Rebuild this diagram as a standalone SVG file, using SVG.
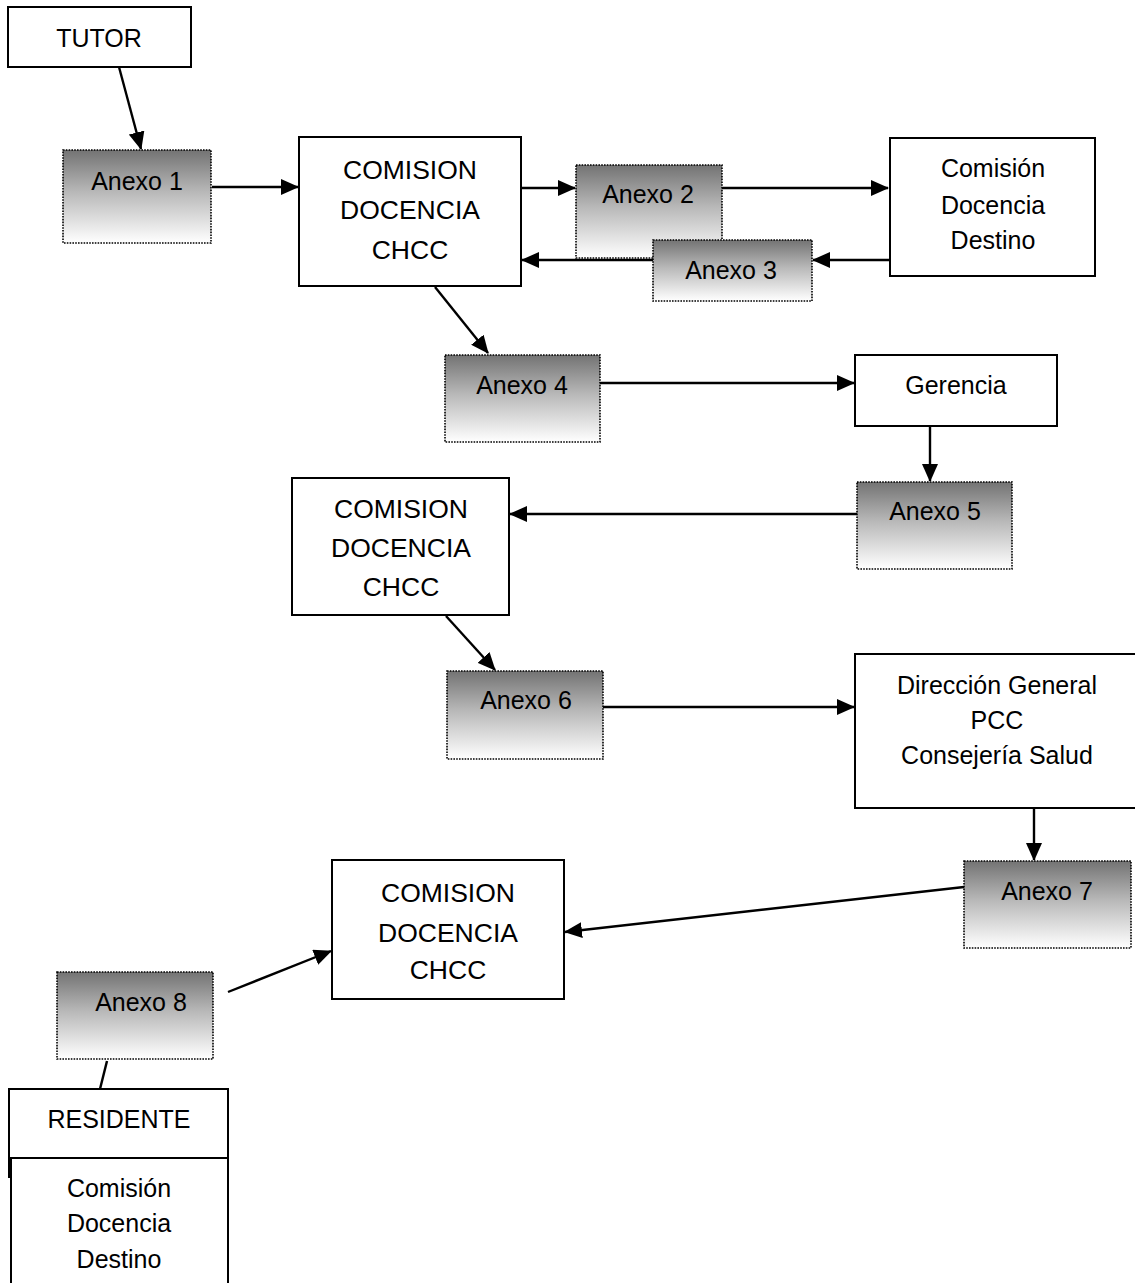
<svg xmlns="http://www.w3.org/2000/svg" width="1135" height="1283" viewBox="0 0 1135 1283">
<style>
.box{fill:#fff;stroke:#000;stroke-width:2}
.anx{fill:url(#g);stroke:#000;stroke-width:1.6;stroke-dasharray:1.6 1.2}
.t{font-family:"Liberation Sans",Arial,sans-serif;font-size:25px;fill:#000;text-anchor:middle}
.k{font-size:26.5px}
.c{fill:none;stroke:#000;stroke-width:2.4}
</style>
<defs>
<linearGradient id="g" x1="0" y1="0" x2="0" y2="1">
<stop offset="0" stop-color="#737373"/>
<stop offset="0.45" stop-color="#b8b8b8"/>
<stop offset="1" stop-color="#ffffff"/>
</linearGradient>
<marker id="a" markerUnits="userSpaceOnUse" markerWidth="18" markerHeight="16" refX="17" refY="8" orient="auto">
<path d="M0,0 L18,8 L0,16 Z" fill="#000"/>
</marker>
</defs>
<rect width="1135" height="1283" fill="#fff"/>

<g id="connectors">
<line class="c" x1="119" y1="67" x2="141" y2="149" marker-end="url(#a)"/>
<line class="c" x1="212" y1="187" x2="298" y2="187" marker-end="url(#a)"/>
<line class="c" x1="522" y1="188" x2="575" y2="188" marker-end="url(#a)"/>
<line class="c" x1="722" y1="188" x2="888" y2="188" marker-end="url(#a)"/>
<line class="c" x1="890" y1="260" x2="813" y2="260" marker-end="url(#a)"/>
<line class="c" x1="653" y1="260" x2="522" y2="260" marker-end="url(#a)"/>
<line class="c" x1="435" y1="287" x2="488" y2="353" marker-end="url(#a)"/>
<line class="c" x1="600" y1="383" x2="854" y2="383" marker-end="url(#a)"/>
<line class="c" x1="930" y1="426" x2="930" y2="481" marker-end="url(#a)"/>
<line class="c" x1="857" y1="514" x2="510" y2="514" marker-end="url(#a)"/>
<line class="c" x1="446" y1="616" x2="495" y2="670" marker-end="url(#a)"/>
<line class="c" x1="603" y1="707" x2="854" y2="707" marker-end="url(#a)"/>
<line class="c" x1="1034" y1="808" x2="1034" y2="860" marker-end="url(#a)"/>
<line class="c" x1="964" y1="887" x2="565" y2="932" marker-end="url(#a)"/>
<line class="c" x1="228" y1="992" x2="331" y2="951" marker-end="url(#a)"/>
<line class="c" x1="107" y1="1061" x2="100" y2="1089"/>
</g>

<g id="tutor"><rect class="box" x="8" y="7" width="183" height="60"/><text class="t" x="99" y="47">TUTOR</text></g>
<g id="anexo1"><rect class="anx" x="63" y="150" width="148" height="93"/><text class="t" x="137" y="190">Anexo 1</text></g>
<g id="comision1"><rect class="box" x="299" y="137" width="222" height="149"/>
<text class="t k" x="410" y="179">COMISION</text><text class="t k" x="410" y="219">DOCENCIA</text><text class="t k" x="410" y="259">CHCC</text></g>
<g id="anexo2"><rect class="anx" x="576" y="165" width="146" height="93"/><text class="t" x="648" y="203">Anexo 2</text></g>
<g id="destino1"><rect class="box" x="890" y="138" width="205" height="138"/>
<text class="t" x="993" y="177">Comisión</text><text class="t" x="993" y="214">Docencia</text><text class="t" x="993" y="249">Destino</text></g>
<g id="anexo3"><rect class="anx" x="653" y="240" width="159" height="61"/><text class="t" x="731" y="279">Anexo 3</text></g>
<g id="anexo4"><rect class="anx" x="445" y="355" width="155" height="87"/><text class="t" x="522" y="394">Anexo 4</text></g>
<g id="gerencia"><rect class="box" x="855" y="355" width="202" height="71"/><text class="t" x="956" y="394">Gerencia</text></g>
<g id="anexo5"><rect class="anx" x="857" y="482" width="155" height="87"/><text class="t" x="935" y="520">Anexo 5</text></g>
<g id="comision2"><rect class="box" x="292" y="478" width="217" height="137"/>
<text class="t k" x="401" y="518">COMISION</text><text class="t k" x="401" y="557">DOCENCIA</text><text class="t k" x="401" y="596">CHCC</text></g>
<g id="anexo6"><rect class="anx" x="447" y="671" width="156" height="88"/><text class="t" x="526" y="709">Anexo 6</text></g>
<g id="direccion"><rect class="box" x="855" y="654" width="300" height="154"/>
<text class="t" x="997" y="694">Dirección General</text><text class="t" x="997" y="729">PCC</text><text class="t" x="997" y="764">Consejería Salud</text></g>
<g id="anexo7"><rect class="anx" x="964" y="861" width="167" height="87"/><text class="t" x="1047" y="900">Anexo 7</text></g>
<g id="comision3"><rect class="box" x="332" y="860" width="232" height="139"/>
<text class="t k" x="448" y="902">COMISION</text><text class="t k" x="448" y="942">DOCENCIA</text><text class="t k" x="448" y="979">CHCC</text></g>
<g id="anexo8"><rect class="anx" x="57" y="972" width="156" height="87"/><text class="t" x="141" y="1011">Anexo 8</text></g>
<g id="residente"><rect class="box" x="9" y="1089" width="219" height="88"/><text class="t" x="119" y="1128">RESIDENTE</text></g>
<g id="destino2"><rect class="box" x="11" y="1158" width="217" height="200"/>
<text class="t" x="119" y="1197">Comisión</text><text class="t" x="119" y="1232">Docencia</text><text class="t" x="119" y="1268">Destino</text></g>
</svg>
